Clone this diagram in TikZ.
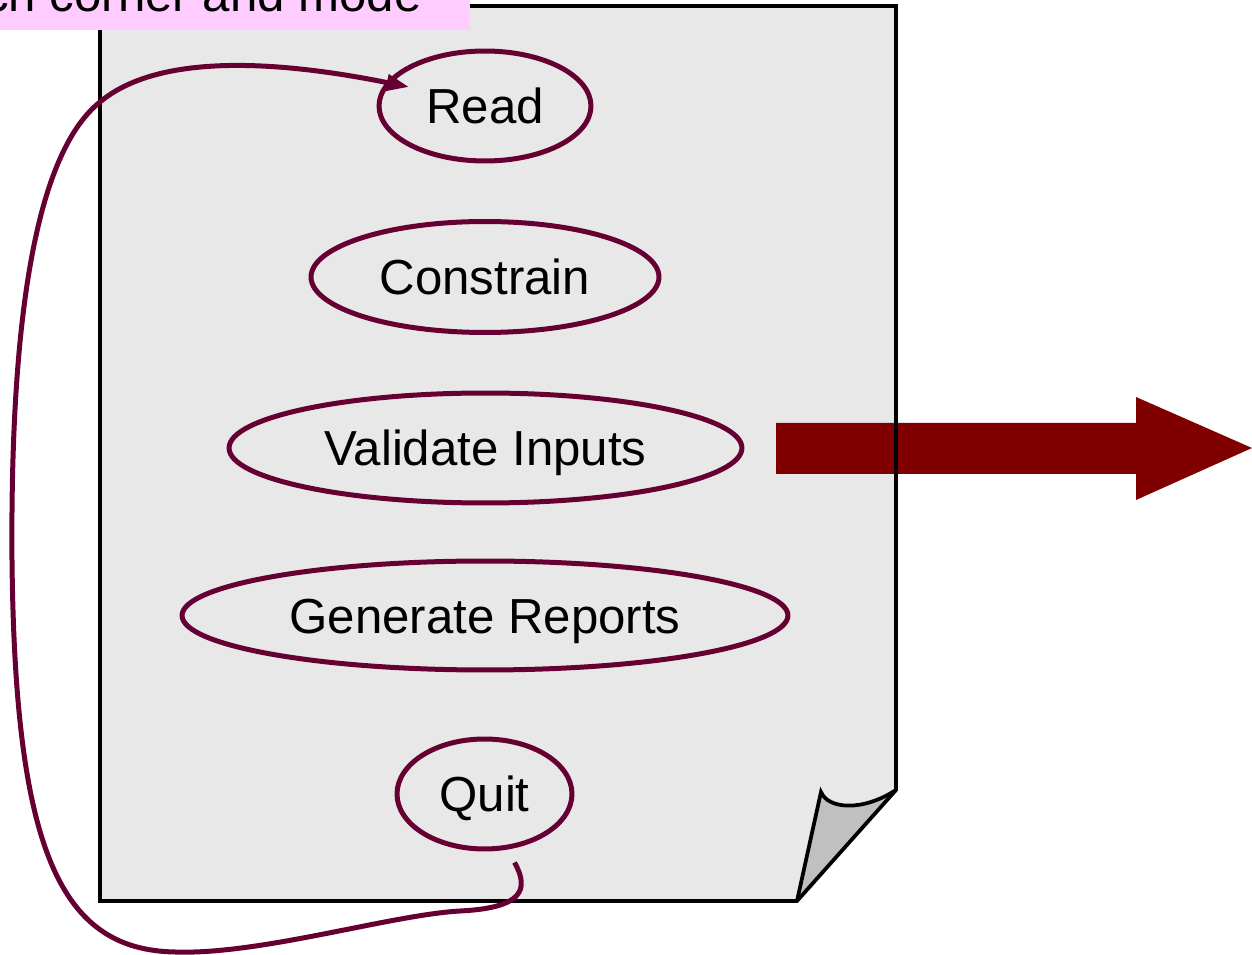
\documentclass[tikz,border=0pt]{standalone}
\usepackage{fontspec}
\setmainfont{Liberation Sans}
\usetikzlibrary{shapes.geometric,arrows.meta,calc}
\definecolor{maroonline}{HTML}{660033}
\definecolor{paperfill}{HTML}{E8E8E8}
\definecolor{curlfill}{HTML}{C0C0C0}
\definecolor{pinkfill}{HTML}{FFCCFF}
\definecolor{bigarrow}{HTML}{800000}
\tikzset{
  oval/.style={ellipse, draw=maroonline, line width=0.1cm, inner sep=0pt,
    font=\fontsize{28}{34}\selectfont, text=black, text height=20pt, text depth=0pt},
  paperline/.style={draw=black, line width=0.075cm, line join=miter},
  loopline/.style={draw=maroonline, line width=0.1cm,
    -{Triangle[length=0.45cm,width=0.32cm]}},
}
\begin{document}
\begin{tikzpicture}[x=0.02cm,y=-0.02cm]
\useasboundingbox (0,0) rectangle (1252,955);
% paper fill
\fill[paperfill] (100,6) -- (896,6) -- (896,790) -- (797,901) -- (100,901) -- cycle;
% big arrow
\fill[bigarrow] (776,423) -- (1136,423) -- (1136,397) -- (1252,448) -- (1136,500) -- (1136,474) -- (776,474) -- cycle;
% curl
\fill[curlfill] (797,901) -- (821,792) .. controls (828,809) and (862,812) .. (896,790) -- cycle;
% paper outline
\draw[paperline] (896,790) -- (896,6) -- (100,6) -- (100,901) -- (797,901) -- cycle;
\draw[paperline] (797,901) -- (821,792) .. controls (828,809) and (862,812) .. (896,790);
% ovals
\node[oval, minimum width=4.24cm, minimum height=2.2cm] (read) at (485,106) {Read};
\node[oval, minimum width=6.96cm, minimum height=2.22cm] (constrain) at (485,277) {Constrain};
\node[oval, minimum width=10.26cm, minimum height=2.2cm] (validate) at (485.5,448) {Validate Inputs};
\node[oval, minimum width=12.12cm, minimum height=2.18cm] (generate) at (485,615.5) {Generate Reports};
\node[oval, minimum width=3.5cm, minimum height=2.2cm] (quit) at (484.5,794) {Quit};
% loop connector
\coordinate (loopstart) at ($(quit.south)+(30,11)$);
\coordinate (loopend) at ($(read.center)+(-76,-19)$);
\draw[loopline] (loopstart) .. controls (530,890) and (522,908) .. (460,911)
  .. controls (390,915) and (260,955) .. (175,952)
  .. controls (60,950) and (15,850) .. (12,560)
  .. controls (10,300) and (40,150) .. (100,102)
  .. controls (150,60) and (250,55) .. (loopend);
% pink label (clipped at top)
\begin{scope}
\clip (0,0) rectangle (1252,955);
\fill[pinkfill] (0,-20) rectangle (470,30);
\node[anchor=base east, inner sep=0pt, font=\fontsize{28}{34}\selectfont] (label) at (422,11.5) {ch corner and mode};
\end{scope}
\end{tikzpicture}
\end{document}
